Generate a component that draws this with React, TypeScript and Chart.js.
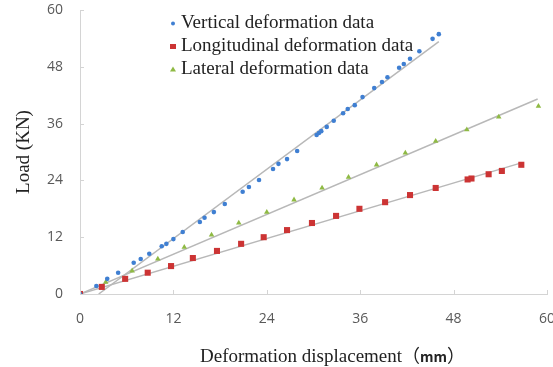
import React, { useEffect, useRef } from 'react';
import { Chart, registerables } from 'chart.js';

Chart.register(...registerables);

// ---- Data ----
const verticalX = [0, 2.1, 3.5, 4.9, 6.9, 7.8, 8.9, 10.5, 11.1, 12.0, 13.2, 15.4, 16.0, 17.2, 18.6, 20.9, 21.7, 23.0, 24.8, 25.5, 26.6, 27.9, 30.4, 30.7, 31.0, 31.7, 32.6, 33.8, 34.4, 35.3, 36.3, 37.8, 38.8, 39.5, 41.0, 41.6, 42.4, 43.6, 45.3, 46.1];
const verticalY = [0, 1.7, 3.2, 4.5, 6.6, 7.4, 8.5, 10.1, 10.6, 11.6, 13.1, 15.2, 16.1, 17.3, 19.0, 21.6, 22.6, 24.1, 26.4, 27.5, 28.5, 30.2, 33.6, 34.0, 34.4, 35.3, 36.6, 38.2, 39.1, 39.9, 41.6, 43.5, 44.8, 45.8, 47.8, 48.6, 49.7, 51.3, 53.9, 54.9];

const longitudinalX = [0, 2.8, 5.8, 8.7, 11.7, 14.5, 17.6, 20.7, 23.6, 26.6, 29.8, 32.9, 35.9, 39.2, 42.4, 45.7, 49.8, 50.3, 52.5, 54.2, 56.7];
const longitudinalY = [0, 1.5, 3.2, 4.5, 5.9, 7.6, 9.1, 10.6, 12.0, 13.5, 15.0, 16.5, 18.0, 19.4, 20.9, 22.4, 24.2, 24.4, 25.3, 26.0, 27.3];

const lateralX = [0, 3.3, 6.7, 10.0, 13.4, 16.9, 20.4, 24.0, 27.5, 31.1, 34.5, 38.1, 41.8, 45.7, 49.7, 53.8, 58.9];
const lateralY = [0, 2.5, 4.9, 7.4, 9.9, 12.5, 15.0, 17.3, 19.9, 22.4, 24.7, 27.3, 29.8, 32.3, 34.7, 37.4, 39.7];

// Linear trend lines (end points)
const verticalTrendX = [2.4, 46.1];
const verticalTrendY = [0, 53.3];
const longitudinalTrendX = [0, 56.7];
const longitudinalTrendY = [0, 27.7];
const lateralTrendX = [0, 58.8];
const lateralTrendY = [0, 41.2];

const seriesLabels = ['Vertical deformation data', 'Longitudinal deformation data', 'Lateral deformation data'];
const xTicks = [0, 12, 24, 36, 48, 60];
const yTicks = [0, 12, 24, 36, 48, 60];
const xTitle = 'Deformation displacement';
const xTitleUnit = 'mm';
const yTitle = 'Load (KN)';

const BLUE = '#3f7fd2';
const RED = '#cc3434';
const GREEN = '#8fba44';
const TREND = '#b8b8b8';
const AXIS = '#d4d4d4';

const zip = (xs: number[], ys: number[]) => xs.map((x, i) => ({ x, y: ys[i] }));

const overlayPlugin = {
  id: 'overlay',
  afterDraw(chart: any) {
    const { ctx, chartArea, scales } = chart;
    ctx.save();
    // inward tick marks
    ctx.strokeStyle = AXIS;
    ctx.lineWidth = 1;
    xTicks.forEach((v) => {
      const px = Math.round(scales.x.getPixelForValue(v)) + 0.5;
      ctx.beginPath();
      ctx.moveTo(px, chartArea.bottom);
      ctx.lineTo(px, chartArea.bottom - 4);
      ctx.stroke();
    });
    yTicks.forEach((v) => {
      const py = Math.round(scales.y.getPixelForValue(v)) + 0.5;
      ctx.beginPath();
      ctx.moveTo(chartArea.left, py);
      ctx.lineTo(chartArea.left + 4, py);
      ctx.stroke();
    });

    // legend inside the plot
    const rowBase = [28, 51, 74];
    const markerX = 173;
    const textX = 181;
    ctx.font = '19px "Liberation Serif", "Times New Roman", serif';
    ctx.textAlign = 'left';
    ctx.textBaseline = 'alphabetic';
    seriesLabels.forEach((label, i) => {
      const my = rowBase[i] - 4.5;
      if (i === 0) {
        ctx.fillStyle = BLUE;
        ctx.beginPath();
        ctx.arc(markerX, my, 2, 0, Math.PI * 2);
        ctx.fill();
      } else if (i === 1) {
        ctx.fillStyle = RED;
        ctx.fillRect(markerX - 3, my - 2.5, 6, 5);
      } else {
        ctx.fillStyle = GREEN;
        ctx.beginPath();
        ctx.moveTo(markerX, my - 3);
        ctx.lineTo(markerX + 3, my + 2);
        ctx.lineTo(markerX - 3, my + 2);
        ctx.closePath();
        ctx.fill();
      }
      ctx.fillStyle = '#222';
      ctx.fillText(label, textX, rowBase[i]);
    });

    // x-axis title
    let x = 200;
    const base = 362;
    ctx.fillStyle = '#222';
    ctx.font = '19px "Liberation Serif", "Times New Roman", serif';
    ctx.fillText(xTitle, x, base);
    x += ctx.measureText(xTitle).width;
    ctx.font = '18px "Noto Sans CJK SC", sans-serif';
    ctx.fillText('（', x, base);
    x += ctx.measureText('（').width;
    ctx.font = 'bold 14px "Noto Sans CJK SC", "Liberation Sans", sans-serif';
    ctx.fillText(xTitleUnit, x, base);
    x += ctx.measureText(xTitleUnit).width;
    ctx.font = '18px "Noto Sans CJK SC", sans-serif';
    ctx.fillText('）', x, base);

    // y-axis title
    ctx.save();
    ctx.translate(29, (chartArea.top + chartArea.bottom) / 2);
    ctx.rotate(-Math.PI / 2);
    ctx.font = '19px "Liberation Serif", "Times New Roman", serif';
    ctx.textAlign = 'center';
    ctx.textBaseline = 'alphabetic';
    ctx.fillText(yTitle, 0, 0);
    ctx.restore();

    ctx.restore();
  },
};

export default function App() {
  const ref = useRef<HTMLCanvasElement | null>(null);

  useEffect(() => {
    document.body.style.margin = '0';
    const canvas = ref.current;
    if (!canvas) return;
    const tickFont = { family: '"Open Sans", "Liberation Sans", sans-serif', size: 14 };
    const chart = new Chart(canvas, {
      type: 'scatter',
      data: {
        datasets: [
          {
            label: seriesLabels[0],
            data: zip(verticalX, verticalY),
            backgroundColor: BLUE,
            borderColor: BLUE,
            pointStyle: 'circle',
            pointRadius: 2.3,
            borderWidth: 0,
            order: 1,
          },
          {
            label: seriesLabels[1],
            data: zip(longitudinalX, longitudinalY),
            backgroundColor: RED,
            borderColor: RED,
            pointStyle: 'rect',
            pointRadius: 4.3,
            borderWidth: 0,
            order: 1,
          },
          {
            label: seriesLabels[2],
            data: zip(lateralX, lateralY),
            backgroundColor: GREEN,
            borderColor: GREEN,
            pointStyle: 'triangle',
            pointRadius: 3.2,
            borderWidth: 0,
            order: 1,
          },
          {
            type: 'line',
            label: 'trend-v',
            data: zip(verticalTrendX, verticalTrendY),
            borderColor: TREND,
            borderWidth: 1.5,
            pointRadius: 0,
            fill: false,
            order: 10,
          } as any,
          {
            type: 'line',
            label: 'trend-lo',
            data: zip(longitudinalTrendX, longitudinalTrendY),
            borderColor: TREND,
            borderWidth: 1.5,
            pointRadius: 0,
            fill: false,
            order: 10,
          } as any,
          {
            type: 'line',
            label: 'trend-la',
            data: zip(lateralTrendX, lateralTrendY),
            borderColor: TREND,
            borderWidth: 1.5,
            pointRadius: 0,
            fill: false,
            order: 10,
          } as any,
        ],
      },
      options: {
        responsive: false,
        animation: false,
        devicePixelRatio: 1,
        layout: { padding: { left: 30, right: 13, top: 10, bottom: 0 } },
        plugins: {
          legend: { display: false },
          tooltip: { enabled: false },
          title: { display: false },
        },
        scales: {
          x: {
            type: 'linear',
            min: 0,
            max: 60,
            afterBuildTicks: (scale: any) => {
              scale.ticks = xTicks.map((v) => ({ value: v }));
            },
            ticks: { font: tickFont, color: '#595959', padding: 17 },
            grid: { display: false, drawTicks: false },
            border: { display: true, color: AXIS, width: 1 },
            afterFit: (scale: any) => {
              scale.height = 73;
              scale.paddingLeft = 0;
              scale.paddingRight = 0;
            },
          },
          y: {
            type: 'linear',
            min: 0,
            max: 60,
            afterBuildTicks: (scale: any) => {
              scale.ticks = yTicks.map((v) => ({ value: v }));
            },
            ticks: { font: tickFont, color: '#595959', padding: 17 },
            grid: { display: false, drawTicks: false },
            border: { display: true, color: AXIS, width: 1 },
            afterFit: (scale: any) => {
              scale.width = 50;
              scale.paddingTop = 0;
              scale.paddingBottom = 0;
            },
          },
        },
      },
      plugins: [overlayPlugin],
    } as any);
    return () => chart.destroy();
  }, []);

  return (
    <div style={{ width: 553, height: 367, overflow: 'hidden', position: 'relative' }}>
      <canvas ref={ref} width={560} height={367} style={{ display: 'block', width: 560, height: 367 }} />
    </div>
  );
}
